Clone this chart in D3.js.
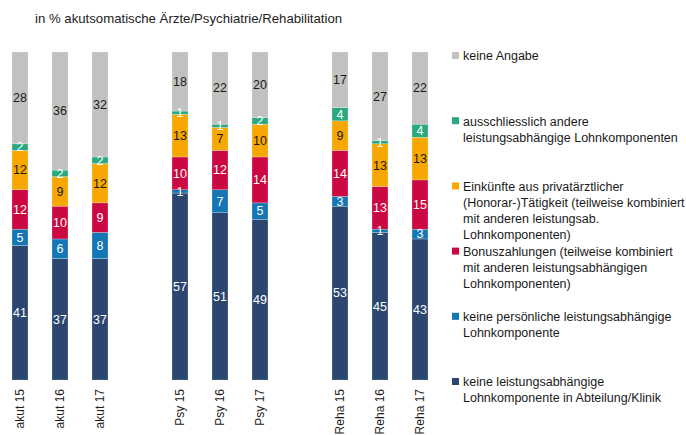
<!DOCTYPE html>
<html>
<head>
<meta charset="utf-8">
<script src="https://cdn.jsdelivr.net/npm/d3@7"></script>
<style>
  body { margin: 0; background: #fff; }
  text { font-family: "Liberation Sans", Arial, sans-serif; }
</style>
</head>
<body>
<div id="chart"></div>
<script>
// data
var groups = ["akut", "Psy", "Reha"];
var years = ["15", "16", "17"];
var categories = ["akut 15", "akut 16", "akut 17", "Psy 15", "Psy 16", "Psy 17", "Reha 15", "Reha 16", "Reha 17"];

// stack order, bottom to top
var keys = ["keineLeistung", "keinePers", "bonus", "privat", "andere", "keineAngabe"];
var navyVals   = [41, 37, 37, 57, 51, 49, 53, 45, 43];
var blueVals   = [5, 6, 8, 1, 7, 5, 3, 1, 3];
var redVals    = [12, 10, 9, 10, 12, 14, 14, 13, 15];
var orangeVals = [12, 9, 12, 13, 7, 10, 9, 13, 13];
var greenVals  = [2, 2, 2, 1, 1, 2, 4, 1, 4];
var grayVals   = [28, 36, 32, 18, 22, 20, 17, 27, 22];

var legendLabels = [
  ["keine Angabe"],
  ["ausschliesslich andere", "leistungsabhängige Lohnkomponenten"],
  ["Einkünfte aus privatärztlicher", "(Honorar-)Tätigkeit (teilweise kombiniert", "mit anderen leistungsab.", "Lohnkomponenten)"],
  ["Bonuszahlungen (teilweise kombiniert", "mit anderen leistungsabhängigen", "Lohnkomponenten)"],
  ["keine persönliche leistungsabhängige", "Lohnkomponente"],
  ["keine leistungsabhängige", "Lohnkomponente in Abteilung/Klinik"]
];
var legendKeys = ["keineAngabe", "andere", "privat", "bonus", "keinePers", "keineLeistung"];

var colors = {
  keineLeistung: "#2b4770",
  keinePers: "#1476b4",
  bonus: "#cc0843",
  privat: "#f6a800",
  andere: "#2aa87f",
  keineAngabe: "#c1c1bf"
};
var darkText = { privat: true, keineAngabe: true };

var rows = categories.map(function (c, i) {
  return {
    cat: c, group: groups[Math.floor(i / 3)], year: years[i % 3],
    keineLeistung: navyVals[i], keinePers: blueVals[i], bonus: redVals[i],
    privat: orangeVals[i], andere: greenVals[i], keineAngabe: grayVals[i]
  };
});

var w = 686, h = 435;
var svg = d3.select("#chart").append("svg").attr("width", w).attr("height", h);

var x0 = d3.scaleBand().domain(groups).range([0, 440]).paddingInner(0.25).paddingOuter(0);
var x1 = d3.scaleBand().domain(years).range([0, x0.bandwidth()]).paddingInner(0.6).paddingOuter(0.3);
var y = d3.scaleLinear().domain([0, 100]).range([380, 52]);

// title
svg.append("text")
  .attr("x", 35).attr("y", 23)
  .attr("font-size", 13.2).attr("fill", "#222")
  .text("in % akutsomatische Ärzte/Psychiatrie/Rehabilitation");

var series = d3.stack().keys(keys)(rows);

var layer = svg.selectAll("g.layer")
  .data(series)
  .enter()
  .append("g")
  .attr("class", "layer")
  .attr("fill", function (d) { return colors[d.key]; });

layer.selectAll("rect")
  .data(function (d) { return d; })
  .enter()
  .append("rect")
  .attr("x", function (d) { return x0(d.data.group) + x1(d.data.year); })
  .attr("width", x1.bandwidth())
  .attr("y", function (d) { return y(d[1]); })
  .attr("height", function (d) { return y(d[0]) - y(d[1]); })
  .attr("stroke", "#fff").attr("stroke-width", 0.4).attr("stroke-opacity", 0.6);

// value labels
series.forEach(function (s) {
  svg.append("g").selectAll("text")
    .data(s)
    .enter()
    .append("text")
    .attr("x", function (d) { return x0(d.data.group) + x1(d.data.year) + x1.bandwidth() / 2; })
    .attr("y", function (d) { return (y(d[0]) + y(d[1])) / 2; })
    .attr("dy", "0.35em")
    .attr("text-anchor", "middle")
    .attr("font-size", 12.5)
    .attr("fill", darkText[s.key] ? "#1a1a1a" : "#fff")
    .text(function (d) { return d[1] - d[0]; });
});

// category labels, rotated
svg.append("g").selectAll("text")
  .data(rows)
  .enter()
  .append("text")
  .attr("transform", function (d) {
    var cx = x0(d.group) + x1(d.year) + x1.bandwidth() / 2;
    return "translate(" + (cx + 4) + ",389) rotate(-90)";
  })
  .attr("text-anchor", "end")
  .attr("font-size", 12)
  .attr("fill", "#1a1a1a")
  .text(function (d) { return d.cat; });

// legend
var ly = d3.scaleLinear().domain([0, 5]).range([56, 382]);
var leg = svg.append("g").selectAll("g")
  .data(legendKeys)
  .enter()
  .append("g")
  .attr("transform", function (d, i) { return "translate(452," + ly(i) + ")"; });

leg.append("rect")
  .attr("x", 0).attr("y", -4).attr("width", 7).attr("height", 7)
  .attr("fill", function (d) { return colors[d]; });

leg.append("text")
  .attr("font-size", 12.5).attr("fill", "#1a1a1a")
  .each(function (d, i) {
    var t = d3.select(this);
    legendLabels[i].forEach(function (line, j) {
      t.append("tspan").attr("x", 11).attr("y", j * 16).attr("dy", "0.35em").text(line);
    });
  });
</script>
</body>
</html>
